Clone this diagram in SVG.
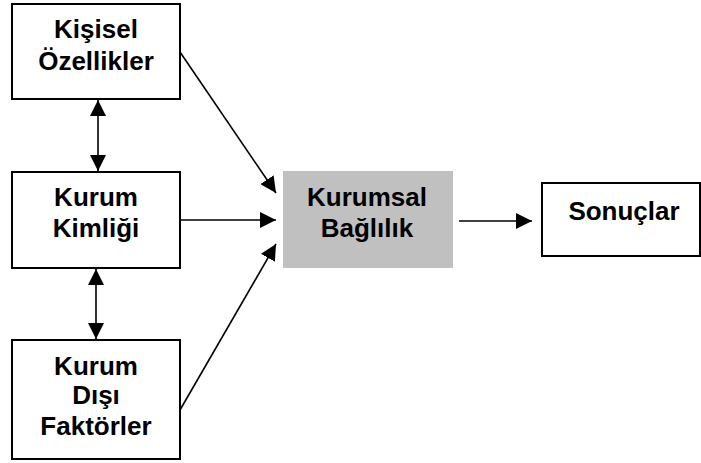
<svg xmlns="http://www.w3.org/2000/svg" width="701" height="463" viewBox="0 0 701 463">
  <style>
    .box { fill: #ffffff; stroke: #000000; stroke-width: 2; }
    .core { fill: #c0c0c0; stroke: none; }
    .lbl { font-family: "Liberation Sans", Arial, sans-serif; font-weight: bold; font-size: 26px; fill: #000000; text-anchor: middle; }
    .link { stroke: #000000; stroke-width: 1.6; fill: none; }
  </style>
  <defs>
    <marker id="head" markerUnits="userSpaceOnUse" markerWidth="16" markerHeight="16" viewBox="0 0 16 16" refX="16" refY="8" orient="auto-start-reverse">
      <path d="M0,0 L16,8 L0,16 Z" fill="#000000"/>
    </marker>
  </defs>

  <g id="kisisel">
    <rect class="box" x="12" y="4" width="168" height="95"/>
    <text class="lbl" x="96" y="38">Kişisel</text>
    <text class="lbl" x="96" y="70">Özellikler</text>
  </g>

  <g id="kimlik">
    <rect class="box" x="12" y="172" width="168" height="96"/>
    <text class="lbl" x="96" y="206">Kurum</text>
    <text class="lbl" x="96" y="237">Kimliği</text>
  </g>

  <g id="dis">
    <rect class="box" x="12" y="340" width="168" height="119"/>
    <text class="lbl" x="96" y="375">Kurum</text>
    <text class="lbl" x="96" y="404">Dışı</text>
    <text class="lbl" x="96" y="435">Faktörler</text>
  </g>

  <g id="baglilik">
    <rect class="core" x="283" y="171" width="170" height="97"/>
    <text class="lbl" x="367" y="206">Kurumsal</text>
    <text class="lbl" x="367" y="237">Bağlılık</text>
  </g>

  <g id="sonuclar">
    <rect class="box" x="542" y="183" width="158" height="73"/>
    <text class="lbl" x="624" y="220">Sonuçlar</text>
  </g>

  <g id="connectors">
    <line class="link" x1="98" y1="100" x2="98" y2="171" marker-start="url(#head)" marker-end="url(#head)"/>
    <line class="link" x1="96" y1="269" x2="96" y2="339" marker-start="url(#head)" marker-end="url(#head)"/>
    <line class="link" x1="180" y1="52" x2="276" y2="193" marker-end="url(#head)"/>
    <line class="link" x1="180" y1="220" x2="276" y2="220" marker-end="url(#head)"/>
    <line class="link" x1="180" y1="410" x2="276" y2="244" marker-end="url(#head)"/>
    <line class="link" x1="459" y1="221" x2="532" y2="221" marker-end="url(#head)"/>
  </g>
</svg>
